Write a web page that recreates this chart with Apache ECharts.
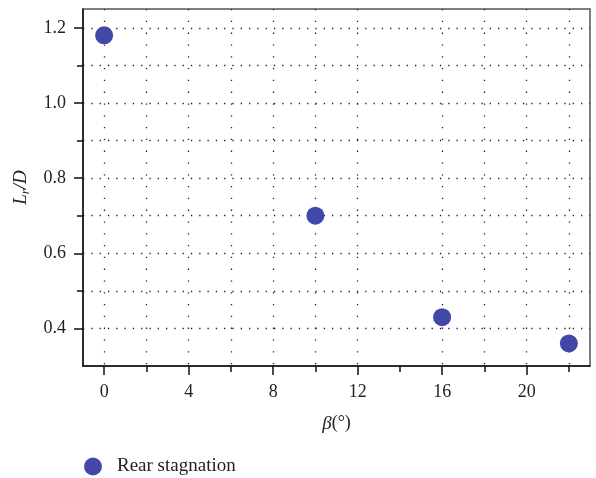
<!DOCTYPE html>
<html>
<head>
<meta charset="utf-8">
<script src="https://cdn.jsdelivr.net/npm/echarts@6/dist/echarts.min.js"></script>
<style>html,body{margin:0;padding:0;background:#fff;}#c{width:596px;height:478px;}</style>
</head>
<body>
<div id="c"></div>
<script>
var seriesName = 'Rear stagnation';
var betaValues = [0, 10, 16, 22];
var lrdValues = [1.18, 0.70, 0.43, 0.36];
var xTickLabels = [0, 4, 8, 12, 16, 20];
var xMinorTicks = [2, 6, 10, 14, 18, 22];
var xGridValues = [0, 2, 4, 6, 8, 10, 12, 16, 18, 20, 22];
var yTickLabels = [0.4, 0.6, 0.8, 1.0, 1.2];
var yMinorTicks = [0.5, 0.7, 0.9, 1.1];
var yGridValues = [0.4, 0.5, 0.6, 0.7, 0.8, 0.9, 1.0, 1.1, 1.2];

var FONT = 'Liberation Serif';
var TXT = '#222';
var xMin = -1, xMax = 23, yMin = 0.3, yMax = 1.25;

var chart = echarts.init(document.getElementById('c'), null, {renderer: 'canvas'});
var dotH = {color: '#222', width: 1.3, type: [1.3, 7]};
var dotV = {color: '#222', width: 1.3, type: [1.3, 10.5]};
var lineBase = {show: true, onZero: false, lineStyle: {color: '#111', width: 1.5}};
var noLine = {show: false, onZero: false};

var option = {
  animation: false,
  backgroundColor: '#fff',
  grid: {left: 83, right: 6, top: 9, bottom: 112, show: true, borderColor: '#555', borderWidth: 1.5},
  legend: {
    data: [seriesName], left: 84, top: 457, padding: 0, icon: 'circle', itemWidth: 38, itemHeight: 18, itemGap: 8,
    textStyle: {fontFamily: FONT, fontSize: 19, color: TXT}
  },
  xAxis: [
    {
      type: 'value', min: xMin, max: xMax, position: 'bottom',
      axisLine: lineBase,
      axisTick: {show: true, length: 9, customValues: xTickLabels, lineStyle: {color: '#111', width: 1.5}},
      axisLabel: {customValues: xTickLabels, margin: 17, fontFamily: FONT, fontSize: 18, color: TXT},
      splitLine: {show: false},
      name: '{b|β}{n|(°)}', nameLocation: 'middle', nameGap: 48,
      nameTextStyle: {rich: {b: {fontFamily: FONT, fontStyle: 'italic', fontSize: 19, color: TXT}, n: {fontFamily: FONT, fontSize: 18, color: TXT}}}
    },
    {
      type: 'value', min: xMin, max: xMax, position: 'bottom',
      axisLine: noLine,
      axisTick: {show: true, length: 6, customValues: xMinorTicks, lineStyle: {color: '#111', width: 1.5}},
      axisLabel: {show: false},
      splitLine: {show: false}
    },
    {
      type: 'value', min: xMin, max: xMax, position: 'bottom',
      axisLine: noLine,
      axisTick: {show: false, customValues: xGridValues},
      axisLabel: {show: false},
      splitLine: {show: true, lineStyle: dotV}
    }
  ],
  yAxis: [
    {
      type: 'value', min: yMin, max: yMax, position: 'left',
      axisLine: lineBase,
      axisTick: {show: true, length: 9, customValues: yTickLabels, lineStyle: {color: '#111', width: 1.5}},
      axisLabel: {customValues: yTickLabels, margin: 17, fontFamily: FONT, fontSize: 18, color: TXT,
        formatter: function (v) { return v.toFixed(1); }},
      splitLine: {show: false},
      name: '{i|L}{s|r}{i|/D}', nameLocation: 'middle', nameGap: 51, nameRotate: 90,
      nameTextStyle: {rich: {
        i: {fontFamily: FONT, fontStyle: 'italic', fontSize: 19, color: TXT},
        s: {fontFamily: FONT, fontStyle: 'italic', fontSize: 13, color: TXT, padding: [9, 0, 0, 0]}
      }}
    },
    {
      type: 'value', min: yMin, max: yMax, position: 'left',
      axisLine: noLine,
      axisTick: {show: true, length: 6, customValues: yMinorTicks, lineStyle: {color: '#111', width: 1.5}},
      axisLabel: {show: false},
      splitLine: {show: false}
    },
    {
      type: 'value', min: yMin, max: yMax, position: 'left',
      axisLine: noLine,
      axisTick: {show: false, customValues: yGridValues},
      axisLabel: {show: false},
      splitLine: {show: true, lineStyle: dotH}
    }
  ],
  series: [{
    name: seriesName, type: 'scatter', xAxisIndex: 0, yAxisIndex: 0,
    symbol: 'circle', symbolSize: 18,
    itemStyle: {color: '#4148a8', opacity: 1},
    data: betaValues.map(function (b, i) { return [b, lrdValues[i]]; }),
    z: 5
  }]
};
chart.setOption(option);
</script>
</body>
</html>
